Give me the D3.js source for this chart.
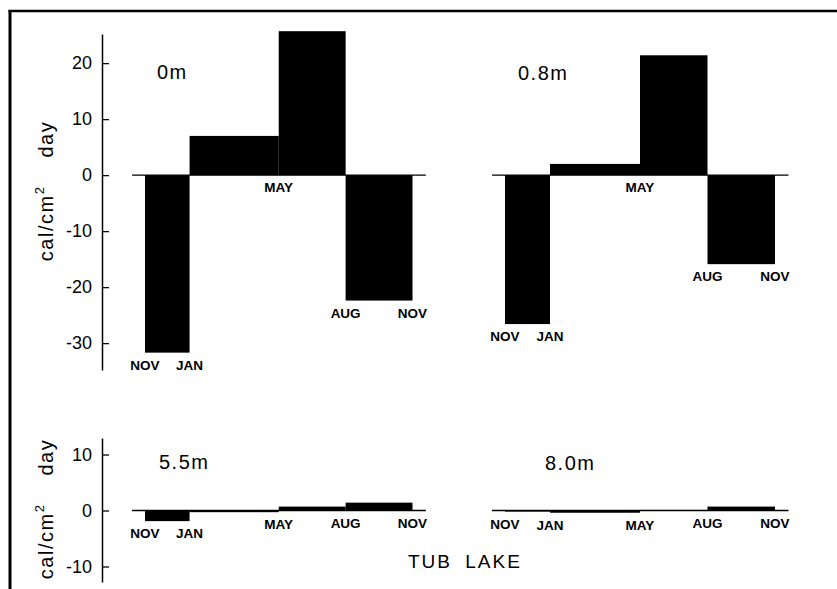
<!DOCTYPE html>
<html><head><meta charset="utf-8">
<script src="https://cdn.jsdelivr.net/npm/d3@7"></script>
<style>
html,body{margin:0;padding:0;background:#fff;}
svg{display:block;}
</style></head>
<body>
<svg id="chart" width="837" height="589"></svg>
<script>
// ---- data ----
const boundaryLabels = ["NOV", "JAN", "MAY", "AUG", "NOV"];
const boundaryMonths = [0, 2, 6, 9, 12];   // months after first November
const values0m  = [-31.7, 7.0, 25.7, -22.4];
const values08m = [-26.6, 2.0, 21.4, -15.9];
const values55m = [-1.9, -0.3, 0.7, 1.4];
const values80m = [-0.2, -0.4, 0.1, 0.7];
const panelNames = ["0m", "0.8m", "5.5m", "8.0m"];
const topTicks = [-30, -20, -10, 0, 10, 20];
const bottomTicks = [-10, 0, 10];
const yTitle = "cal/cm";
const yTitleDay = "day";
const lakeTitle = "TUB LAKE";

// ---- layout ----
const svg = d3.select("#chart");
svg.append("rect").attr("width", 837).attr("height", 589).attr("fill", "#fff");
// frame
svg.append("line").attr("x1", 8.5).attr("x2", 837).attr("y1", 11).attr("y2", 11)
  .attr("stroke", "#000").attr("stroke-width", 2.5);
svg.append("line").attr("x1", 10).attr("x2", 10).attr("y1", 10).attr("y2", 589)
  .attr("stroke", "#000").attr("stroke-width", 3);

const xLeft = d3.scaleLinear().domain([0, 12]).range([145, 412.5]);
const xRight = d3.scaleLinear().domain([0, 12]).range([505, 775]);
const yTop = d3.scaleLinear().domain([-34.8, 25.2]).range([370, 34]);
const yBot = d3.scaleLinear().domain([-12.77, 12.95]).range([582, 438]);

const panels = [
  {name: panelNames[0], values: values0m,  x: xLeft,  y: yTop, lx: 157, ly: 79},
  {name: panelNames[1], values: values08m, x: xRight, y: yTop, lx: 518, ly: 80},
  {name: panelNames[2], values: values55m, x: xLeft,  y: yBot, lx: 159, ly: 469},
  {name: panelNames[3], values: values80m, x: xRight, y: yBot, lx: 545, ly: 470}
];

const sans = "'Liberation Sans', Arial, sans-serif";

panels.forEach(p => {
  const g = svg.append("g");
  const bars = p.values.map((v, i) => ({v, m0: boundaryMonths[i], m1: boundaryMonths[i + 1]}));
  g.selectAll("rect.bar").data(bars).join("rect")
    .attr("class", "bar")
    .attr("x", d => p.x(d.m0))
    .attr("width", d => p.x(d.m1) - p.x(d.m0))
    .attr("y", d => p.y(Math.max(0, d.v)))
    .attr("height", d => Math.max(0.8, Math.abs(p.y(d.v) - p.y(0))))
    .attr("fill", "#000");
  // zero line
  g.append("line")
    .attr("x1", p.x(-0.58)).attr("x2", p.x(12.6))
    .attr("y1", p.y(0)).attr("y2", p.y(0))
    .attr("stroke", "#000").attr("stroke-width", 1.3);
  // month labels below the lowest adjacent bar edge
  const labs = boundaryLabels.map((t, i) => {
    const adj = [p.values[i - 1], p.values[i]].filter(v => v !== undefined);
    const bottom = d3.max(adj, v => p.y(Math.min(0, v)));
    return {t, m: boundaryMonths[i], yb: bottom + 17};
  });
  g.selectAll("text.mon").data(labs).join("text")
    .attr("class", "mon")
    .attr("x", d => p.x(d.m)).attr("y", d => d.yb)
    .attr("text-anchor", "middle")
    .attr("font-family", sans).attr("font-weight", "bold")
    .attr("font-size", 13.5)
    .text(d => d.t);
  // panel label
  g.append("text").attr("x", p.lx).attr("y", p.ly)
    .attr("font-family", sans).attr("font-size", 20).attr("letter-spacing", 1.5)
    .text(p.name);
});

// y axes
function drawAxis(scale, ticks, titleCenter) {
  const ax = d3.axisLeft(scale).tickValues(ticks).tickSizeInner(-7).tickSizeOuter(0)
    .tickPadding(10).tickFormat(d => String(d));
  const g = svg.append("g").attr("transform", "translate(102,0)").call(ax);
  g.select(".domain").attr("stroke-width", 1.5);
  g.selectAll(".tick line").attr("stroke-width", 1.3);
  g.selectAll(".tick text").attr("font-family", sans).attr("font-size", 18).attr("fill", "#000");
  const t = svg.append("text")
    .attr("transform", `translate(53,${titleCenter}) rotate(-90)`)
    .attr("text-anchor", "middle")
    .attr("font-family", sans).attr("font-size", 20).attr("letter-spacing", 1.5);
  t.append("tspan").text(yTitle);
  t.append("tspan").attr("font-size", 13).attr("dy", -9).text("2");
  t.append("tspan").attr("dy", 9).attr("dx", 28).text(yTitleDay);
}
drawAxis(yTop, topTicks, 191);
drawAxis(yBot, bottomTicks, 509);

// title
svg.append("text").attr("x", 408).attr("y", 568)
  .attr("font-family", sans).attr("font-size", 19)
  .attr("letter-spacing", 2).attr("word-spacing", 6)
  .text(lakeTitle);
</script>
</body></html>
